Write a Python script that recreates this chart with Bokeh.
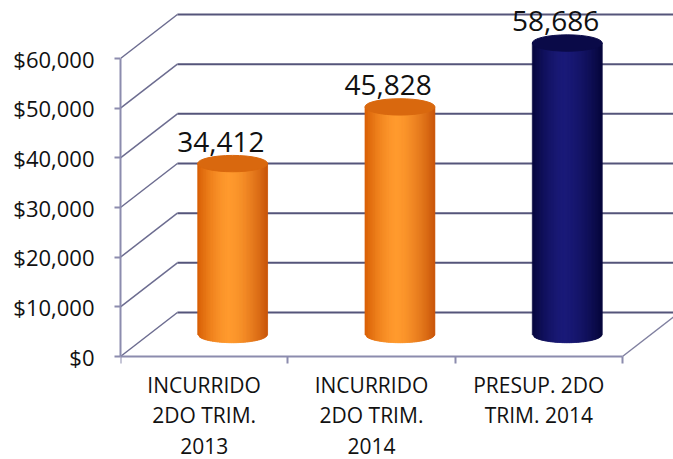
import numpy as np
from bokeh.plotting import figure
from bokeh.models import ColumnDataSource, FixedTicker, NumeralTickFormatter, Range1d
from bokeh.core.properties import value
from bokeh.embed import file_html
from bokeh.resources import INLINE

# ---- data ----
categories = ["INCURRIDO\n2DO TRIM.\n2013", "INCURRIDO\n2DO TRIM.\n2014", "PRESUP. 2DO\nTRIM. 2014"]
amounts = [34412, 45828, 58686]
y_ticks = [0, 10000, 20000, 30000, 40000, 50000, 60000]

# ---- styling / 3D geometry constants ----
FONT = "Open Sans"
DX = 0.34        # depth offset in category units
DY = 8860        # depth offset in value units
R = 0.209        # cylinder radius (x units)
RY = 1650        # ellipse half-height (y units)
X_END = 3.305
Y_START = -20738
Y_END = 71678
body_cols = [("#d85e05", "#ff9a2e", "#c9560a"), ("#d85e05", "#ff9a2e", "#c9560a"), ("#07073c", "#1a1a78", "#06063a")]
cap_cols = ["#d9680e", "#d9680e", "#0a0a48"]

p = figure(width=673, height=459, output_backend="svg", toolbar_location=None,
           x_range=Range1d(0, X_END), y_range=Range1d(Y_START, Y_END),
           min_border_left=120, min_border_right=0, min_border_top=0, min_border_bottom=0)
p.outline_line_color = None
p.xgrid.visible = False
p.ygrid.visible = False
p.background_fill_color = "white"

# back wall gridlines + side diagonals
p.segment(x0=[DX] * len(y_ticks), y0=[t + DY for t in y_ticks],
          x1=[X_END + 1] * len(y_ticks), y1=[t + DY for t in y_ticks],
          line_color="#55557a", line_width=2)
p.segment(x0=[0] * len(y_ticks), y0=y_ticks, x1=[DX] * len(y_ticks), y1=[t + DY for t in y_ticks],
          line_color="#6c6c90", line_width=1.5)
n = len(categories)
p.segment(x0=[n], y0=[0], x1=[n + DX], y1=[DY], line_color="#8080a0", line_width=1.5)

# cylinders built from shaded vertical slices
xs, ys, cols = [], [], []
cap_x, cap_y, cap_c = [], [], []
N = 40
def mix(c1, c2, f):
    a = np.array([int(c1[i:i + 2], 16) for i in (1, 3, 5)])
    b = np.array([int(c2[i:i + 2], 16) for i in (1, 3, 5)])
    c = (a + (b - a) * f).round().astype(int)
    return "#%02x%02x%02x" % tuple(c)

for i, v in enumerate(amounts):
    cx = i + 0.5 + DX / 2
    yb = DY / 2
    yt = v + DY / 2
    edges = np.linspace(-R, R, N + 1)
    left_c, hi_c, right_c = body_cols[i]
    for j in range(N):
        u0, u1 = edges[j], edges[j + 1]
        um = (u0 + u1) / 2
        u1e = min(R, u1 + (u1 - u0) * 0.8)
        b0 = yb - RY * np.sqrt(max(0.0, 1 - (u0 / R) ** 2))
        b1 = yb - RY * np.sqrt(max(0.0, 1 - (u1e / R) ** 2))
        xs.append([cx + u0, cx + u1e, cx + u1e, cx + u0])
        ys.append([yt, yt, b1, b0])
        h = -0.1 * R
        t = (um - h) / (R - h) if um > h else (um - h) / (R + h)
        f = max(0.0, 1 - abs(t) ** 1.6)
        edge = left_c if um < h else right_c
        cols.append(mix(edge, hi_c, f))
    cap_x.append(cx)
    cap_y.append(yt)
    cap_c.append(cap_cols[i])

p.patches(xs="xs", ys="ys", fill_color="c", line_color="c", line_width=0.6,
          source=ColumnDataSource(dict(xs=xs, ys=ys, c=cols)))
p.ellipse(x="x", y="y", width=2 * R, height=2 * RY, fill_color="c", line_color="c", line_width=1,
          source=ColumnDataSource(dict(x=cap_x, y=cap_y, c=cap_c)))

# value labels
p.text(x=[i + 0.6 for i in range(n)], y=[v + DY for v in amounts],
       text=[f"{v:,}" for v in amounts], text_font=value(FONT), text_font_size="28px",
       text_align="center", text_baseline="middle", text_color="#111111")

# axes
ax_col = "#8c8cae"
yax = p.yaxis[0]
yax.ticker = FixedTicker(ticks=y_ticks)
yax.formatter = NumeralTickFormatter(format="$0,0")
yax.bounds = (0, 60000)
yax.axis_line_color = ax_col
yax.axis_line_width = 2
yax.major_tick_line_color = ax_col
yax.major_tick_line_width = 2
yax.major_tick_out = 6
yax.major_tick_in = 0
yax.minor_tick_line_color = None
yax.major_label_standoff = 20
yax.major_label_text_font = FONT
yax.major_label_text_font_size = "22px"
yax.major_label_text_color = "#111111"

xax = p.xaxis[0]
xax.fixed_location = 0
xax.ticker = FixedTicker(ticks=[i + 0.5 for i in range(n)], minor_ticks=list(range(n + 1)))
xax.major_label_overrides = {i + 0.5: c for i, c in enumerate(categories)}
xax.bounds = (0, n)
xax.axis_line_color = ax_col
xax.axis_line_width = 2
xax.major_tick_line_color = None
xax.major_tick_out = 0
xax.major_tick_in = 0
xax.minor_tick_line_color = ax_col
xax.minor_tick_line_width = 2
xax.minor_tick_out = 7
xax.minor_tick_in = 0
xax.major_label_standoff = 7
xax.major_label_text_font = FONT
xax.major_label_text_font_size = "21px"
xax.major_label_text_line_height = 1.1
xax.major_label_text_color = "#111111"
xax.major_label_text_align = "center"

open("out.html", "w").write(file_html(p, INLINE))
